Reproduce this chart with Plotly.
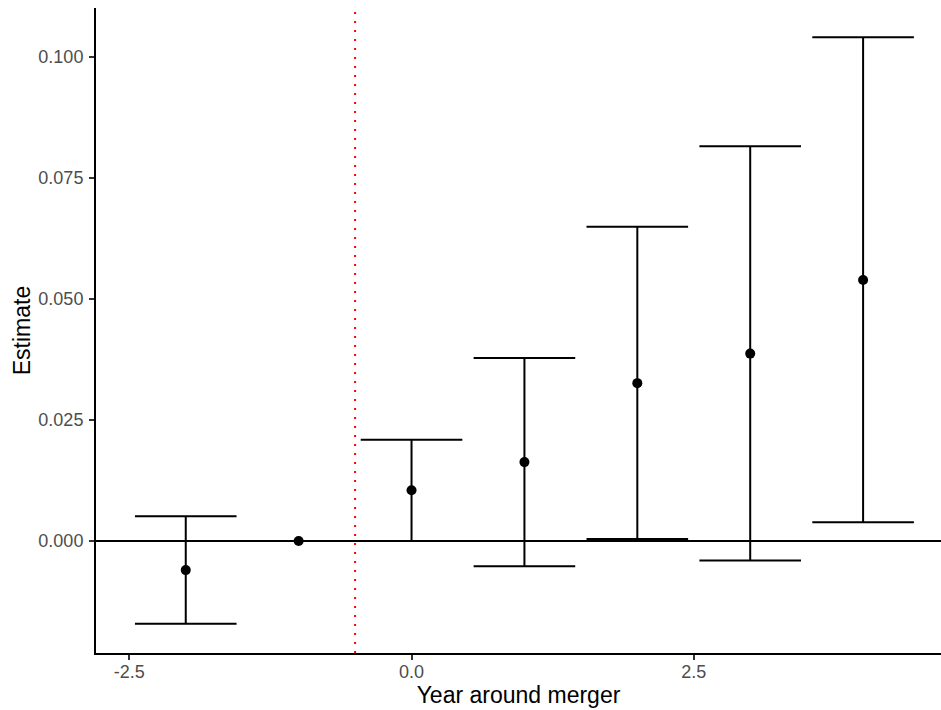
import plotly.graph_objects as go

# Event-study estimates by year relative to the merger
years = [-2, -1, 0, 1, 2, 3, 4]
estimate = [-0.0060, 0.0, 0.0105, 0.0163, 0.0326, 0.0387, 0.0539]
ci_low = [-0.0171, 0.0, 0.0, -0.0052, 0.0004, -0.0040, 0.0039]
ci_high = [0.0051, 0.0, 0.0209, 0.0378, 0.0649, 0.0815, 0.1040]

x_ticks = [-2.5, 0.0, 2.5]
x_tick_labels = ["-2.5", "0.0", "2.5"]
y_ticks = [0.0, 0.025, 0.05, 0.075, 0.1]
y_tick_labels = ["0.000", "0.025", "0.050", "0.075", "0.100"]

merger_cutoff = -0.5

X_RANGE = [-2.795, 4.69]
Y_RANGE = [-0.02312, 0.11006]

W, H = 941, 710
M_L, M_R, M_T, M_B = 96, 0, 8, 57
px_per_unit = (W - M_L - M_R) / (X_RANGE[1] - X_RANGE[0])
whisker_half = 0.45 * px_per_unit

FONT = "Liberation Sans, Arial, Helvetica, sans-serif"
LW = 2

fig = go.Figure()

fig.add_hline(y=0, line=dict(color="black", width=LW), layer="below")
fig.add_vline(x=merger_cutoff, line=dict(color="#ff0000", width=2, dash="2px,7px"),
              layer="below")

fig.add_trace(go.Scatter(
    x=years,
    y=estimate,
    mode="markers",
    marker=dict(color="black", size=10),
    error_y=dict(
        type="data",
        symmetric=False,
        array=[h - e for h, e in zip(ci_high, estimate)],
        arrayminus=[e - l for e, l in zip(estimate, ci_low)],
        color="black",
        thickness=LW,
        width=whisker_half,
    ),
    showlegend=False,
    hoverinfo="x+y",
))

fig.update_layout(
    width=W,
    height=H,
    margin=dict(l=M_L, r=M_R, t=M_T, b=M_B),
    paper_bgcolor="white",
    plot_bgcolor="white",
    font=dict(family=FONT, color="black"),
    showlegend=False,
)

fig.update_xaxes(
    range=X_RANGE,
    tickmode="array",
    tickvals=x_ticks,
    ticktext=x_tick_labels,
    ticks="outside",
    ticklen=5,
    tickwidth=LW,
    tickcolor="#333333",
    tickfont=dict(size=18, color="#4d4d4d", family=FONT),
    ticklabelstandoff=-4,
    showline=True,
    linecolor="black",
    linewidth=LW,
    showgrid=False,
    zeroline=False,
    title=dict(text="Year around merger", font=dict(size=23, color="black", family=FONT),
               standoff=3),
    automargin=False,
)

fig.update_yaxes(
    range=Y_RANGE,
    tickmode="array",
    tickvals=y_ticks,
    ticktext=y_tick_labels,
    ticks="outside",
    ticklen=5,
    tickwidth=LW,
    tickcolor="#333333",
    tickfont=dict(size=18, color="#4d4d4d", family=FONT),
    ticklabelstandoff=2,
    showline=True,
    linecolor="black",
    linewidth=LW,
    showgrid=False,
    zeroline=False,
    title=dict(text="Estimate", font=dict(size=23, color="black", family=FONT),
               standoff=1),
    automargin=False,
)

fig.write_html("out.html")
